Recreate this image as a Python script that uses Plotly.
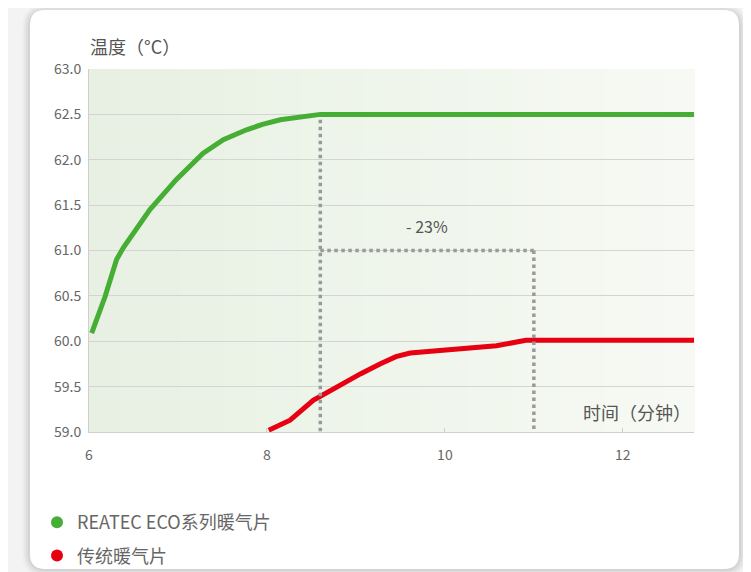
import plotly.graph_objects as go

# ---- data ----
eco_time = [6.03, 6.18, 6.31, 6.385, 6.685, 6.98, 7.28, 7.51, 7.77, 7.95, 8.15, 8.35, 8.6, 12.8]
eco_temp = [60.09, 60.49, 60.90, 61.03, 61.45, 61.78, 62.07, 62.22, 62.33, 62.39, 62.44, 62.47, 62.5, 62.5]
trad_time = [8.02, 8.26, 8.52, 8.82, 9.05, 9.27, 9.45, 9.61, 10.02, 10.58, 10.91, 12.8]
trad_temp = [59.02, 59.13, 59.35, 59.52, 59.64, 59.75, 59.83, 59.87, 59.90, 59.95, 60.01, 60.01]
series_names = ["REATEC ECO系列暖气片", "传统暖气片"]
x_ticks = [6, 8, 10, 12]
y_ticks = [59.0, 59.5, 60.0, 60.5, 61.0, 61.5, 62.0, 62.5, 63.0]
eco_reach_time = 8.6
trad_reach_time = 11.0
guide_level = 61.0
top_level = 62.5
reduction_label = "- 23%"

X_MIN, X_MAX = 6, 12.8
Y_MIN, Y_MAX = 59.0, 63.0

GREEN = "#46ad35"
RED = "#e60012"
GUIDE = "#9a9a9a"
FONT = "Noto Sans CJK SC"

OFF = 8  # page body margin
W, H = 751, 572
ML, MT = 81, 61
PW, PH = 605, 363
MR = W - ML - PW
MB = H - MT - PH


def px2paper(px, py):
    # page pixel coordinates -> paper coordinates
    return (px - OFF - ML) / PW, (OFF + MT + PH - py) / PH


def rounded_rect(x0, y0, x1, y1, r):
    ax, ay = px2paper(x0 + r, y0)
    bx, by = px2paper(x1 - r, y0)
    cx, cy = px2paper(x1, y0 + r)
    dx, dy = px2paper(x1, y1 - r)
    ex, ey = px2paper(x1 - r, y1)
    fx, fy = px2paper(x0 + r, y1)
    gx, gy = px2paper(x0, y1 - r)
    hx, hy = px2paper(x0, y0 + r)
    k1x, k1y = px2paper(x1, y0)
    k2x, k2y = px2paper(x1, y1)
    k3x, k3y = px2paper(x0, y1)
    k4x, k4y = px2paper(x0, y0)
    return (f"M{ax},{ay} L{bx},{by} Q{k1x},{k1y} {cx},{cy} L{dx},{dy} "
            f"Q{k2x},{k2y} {ex},{ey} L{fx},{fy} Q{k3x},{k3y} {gx},{gy} "
            f"L{hx},{hy} Q{k4x},{k4y} {ax},{ay} Z")


shapes = []
# card shadow
for i, a in enumerate([0.02, 0.03, 0.035, 0.045]):
    s = 8 - 2 * i
    shapes.append(dict(type="path", xref="paper", yref="paper", layer="below",
                       path=rounded_rect(30 - s, 10 - s + 2, 739 + s, 569 + s, 16 + s),
                       fillcolor=f"rgba(0,0,0,{a})", line=dict(width=0)))
# card
shapes.append(dict(type="path", xref="paper", yref="paper", layer="below",
                   path=rounded_rect(30, 10, 739, 569, 15),
                   fillcolor="white", line=dict(width=0)))
# plot area gradient
n = 40
c0 = (231, 240, 226)
c1 = (247, 250, 244)
for i in range(n):
    t = i / (n - 1)
    col = tuple(int(round(c0[k] + (c1[k] - c0[k]) * t)) for k in range(3))
    shapes.append(dict(type="rect", xref="paper", yref="paper", layer="below",
                       x0=i / n, x1=(i + 1) / n + 0.002, y0=0, y1=1,
                       fillcolor=f"rgb{col}", line=dict(width=0)))
# guide dotted lines
guide = dict(color=GUIDE, width=3.5, dash="dot")
shapes.append(dict(type="line", xref="x", yref="y", x0=eco_reach_time, x1=eco_reach_time,
                   y0=top_level - 0.06, y1=Y_MIN, line=guide))
shapes.append(dict(type="line", xref="x", yref="y", x0=trad_reach_time, x1=trad_reach_time,
                   y0=guide_level, y1=Y_MIN, line=guide))
shapes.append(dict(type="line", xref="x", yref="y", x0=eco_reach_time, x1=trad_reach_time,
                   y0=guide_level, y1=guide_level, line=guide))

fig = go.Figure()
fig.add_trace(go.Scatter(x=eco_time, y=eco_temp, mode="lines", showlegend=False,
                         line=dict(color=GREEN, width=5), hoverinfo="x+y"))
fig.add_trace(go.Scatter(x=trad_time, y=trad_temp, mode="lines", showlegend=False,
                         line=dict(color=RED, width=5), hoverinfo="x+y"))
# legend entries (dot markers)
fig.add_trace(go.Scatter(x=[None], y=[None], mode="markers", name=series_names[0],
                         marker=dict(color=GREEN, size=12), legendgroup="a"))
fig.add_trace(go.Scatter(x=[None], y=[None], mode="markers", name=series_names[1],
                         marker=dict(color=RED, size=12), legendgroup="b"))

annotations = [
    dict(text="温度（°C）", xref="paper", yref="paper", x=px2paper(88, 0)[0],
         y=px2paper(0, 46)[1], xanchor="left", yanchor="middle", showarrow=False,
         font=dict(size=18, color="#555", family=FONT)),
    dict(text="时间（分钟）", xref="paper", yref="paper", x=px2paper(693, 0)[0],
         y=px2paper(0, 412)[1], xanchor="right", yanchor="middle", showarrow=False,
         font=dict(size=18, color="#555", family=FONT)),
    dict(text=reduction_label, xref="x", yref="y", x=(eco_reach_time + trad_reach_time) / 2,
         y=guide_level + 0.27, xanchor="center", yanchor="middle", showarrow=False,
         font=dict(size=16, color="#555", family=FONT)),
]

fig.update_layout(
    width=W, height=H,
    margin=dict(l=ML, r=MR, t=MT, b=MB, pad=0, autoexpand=False),
    paper_bgcolor="#f3f3f3",
    plot_bgcolor="rgba(0,0,0,0)",
    shapes=shapes,
    annotations=annotations,
    font=dict(family=FONT, color="#666"),
    legend=dict(x=px2paper(37, 0)[0], y=px2paper(0, 504)[1], xanchor="left", yanchor="top",
                bgcolor="rgba(0,0,0,0)", font=dict(size=18, color="#666", family=FONT),
                traceorder="grouped", tracegroupgap=7, itemwidth=30),
    xaxis=dict(range=[X_MIN, X_MAX], tickvals=x_ticks, showgrid=False, zeroline=False,
               showline=True, linecolor="#cfcfcf", linewidth=1, ticks="inside", ticklen=4,
               tickcolor="#cfcfcf", tickfont=dict(size=14, color="#666"), ticklabelstandoff=10),
    yaxis=dict(range=[Y_MIN, Y_MAX], tickvals=y_ticks, tickformat=".1f", showgrid=True,
               gridcolor="#d4d4d4", gridwidth=1, zeroline=False, showline=True,
               linecolor="#cfcfcf", linewidth=1, ticks="", tickfont=dict(size=14, color="#666"),
               ticklabelstandoff=4),
)

fig.write_html("out.html")
